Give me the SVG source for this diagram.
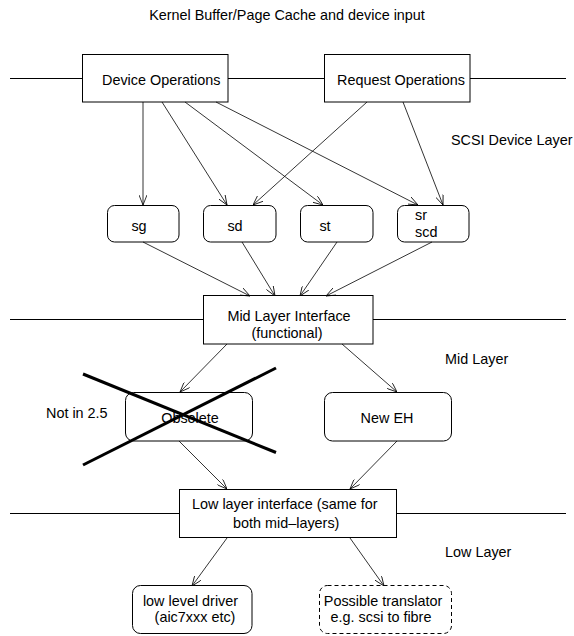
<svg xmlns="http://www.w3.org/2000/svg" width="574" height="636" viewBox="0 0 574 636">
<style>
text{font-family:"Liberation Sans",Arial,sans-serif;font-size:14.4px;fill:#000}
.box{fill:#fff;stroke:#000;stroke-width:1}
.sep{stroke:#000;stroke-width:1;fill:none}
.c{stroke:#000;stroke-width:0.8;fill:none;marker-end:url(#ah)}
.x{stroke:#000;stroke-width:3;fill:none}
.dash{stroke-dasharray:4 3}
</style>
<defs>
<marker id="ah" viewBox="0 0 10 8" refX="10" refY="4" markerWidth="10" markerHeight="8" markerUnits="userSpaceOnUse" orient="auto">
<path d="M0,0 L10,4 L0,8" fill="none" stroke="#000" stroke-width="0.8"/>
</marker>
</defs>
<rect width="574" height="636" fill="#fff"/>
<text x="287" y="20" text-anchor="middle">Kernel Buffer/Page Cache and device input</text>
<g id="layers">
<line class="sep" x1="10" y1="78.5" x2="566" y2="78.5"/>
<line class="sep" x1="10" y1="319.5" x2="566" y2="319.5"/>
<line class="sep" x1="10" y1="513.5" x2="566" y2="513.5"/>
<text x="451" y="145">SCSI Device Layer</text>
<text x="445" y="364">Mid Layer</text>
<text x="445" y="557">Low Layer</text>
</g>
<g id="device-ops"><rect class="box" x="82.5" y="54.5" width="145.5" height="47.5"/><text x="102" y="85">Device Operations</text></g>
<g id="request-ops"><rect class="box" x="324.5" y="54.5" width="145.5" height="47.5"/><text x="337" y="85">Request Operations</text></g>
<g id="sg"><rect class="box" x="107.5" y="205.5" width="71.5" height="36.5" rx="7"/><text x="139" y="231" text-anchor="middle">sg</text></g>
<g id="sd"><rect class="box" x="203.5" y="205.5" width="72.5" height="36.5" rx="7"/><text x="235" y="231" text-anchor="middle">sd</text></g>
<g id="st"><rect class="box" x="300.5" y="205.5" width="72.5" height="36.5" rx="7"/><text x="325" y="231" text-anchor="middle">st</text></g>
<g id="sr"><rect class="box" x="397.5" y="205.5" width="71.5" height="36.5" rx="7"/><text x="415" y="220">sr</text><text x="415" y="237">scd</text></g>
<g id="mid-layer"><rect class="box" x="203.5" y="295.5" width="169.5" height="48.5"/><text x="289" y="320.5" text-anchor="middle">Mid Layer Interface</text><text x="287" y="337.5" text-anchor="middle">(functional)</text></g>
<g id="not-in"><text x="46" y="417.5">Not in 2.5</text></g>
<g id="obsolete"><rect class="box" x="125.5" y="392.5" width="127" height="48.5" rx="8"/><text x="190" y="423" text-anchor="middle">Obsolete</text>
<line class="x" x1="83" y1="374" x2="276" y2="452.5"/><line class="x" x1="276" y1="368" x2="83" y2="465"/></g>
<g id="new-eh"><rect class="box" x="324.5" y="392.5" width="127" height="48.5" rx="8"/><text x="387" y="423" text-anchor="middle">New EH</text></g>
<g id="low-layer"><rect class="box" x="179.5" y="489.5" width="217" height="48"/><text x="192" y="509">Low layer interface (same for</text><text x="233" y="528">both mid–layers)</text></g>
<g id="driver"><rect class="box" x="132.5" y="585.5" width="119.5" height="48" rx="8"/><text x="190.5" y="605.5" text-anchor="middle">low level driver</text><text x="195" y="622" text-anchor="middle">(aic7xxx etc)</text></g>
<g id="translator"><rect class="box dash" x="319.5" y="585.5" width="132" height="48" rx="8"/><text x="383" y="605.5" text-anchor="middle">Possible translator</text><text x="381" y="622" text-anchor="middle">e.g. scsi to fibre</text></g>
<g id="connectors">
<line class="c" x1="143" y1="102" x2="143" y2="205"/>
<line class="c" x1="162" y1="102" x2="227" y2="205"/>
<line class="c" x1="185" y1="102" x2="323" y2="205"/>
<line class="c" x1="216" y1="102" x2="418" y2="205"/>
<line class="c" x1="367" y1="102" x2="253" y2="205"/>
<line class="c" x1="403" y1="102" x2="443" y2="205"/>
<line class="c" x1="143" y1="242" x2="250" y2="296"/>
<line class="c" x1="242" y1="242" x2="275" y2="296"/>
<line class="c" x1="337" y1="242" x2="300" y2="296"/>
<line class="c" x1="432" y1="242" x2="326" y2="296"/>
<line class="c" x1="227" y1="344" x2="180" y2="392"/>
<line class="c" x1="342" y1="344" x2="397" y2="392"/>
<line class="c" x1="179" y1="441" x2="227" y2="489"/>
<line class="c" x1="397" y1="441" x2="350" y2="489"/>
<line class="c" x1="227" y1="538" x2="192" y2="586"/>
<line class="c" x1="350" y1="538" x2="384" y2="586"/>
</g>
</svg>
